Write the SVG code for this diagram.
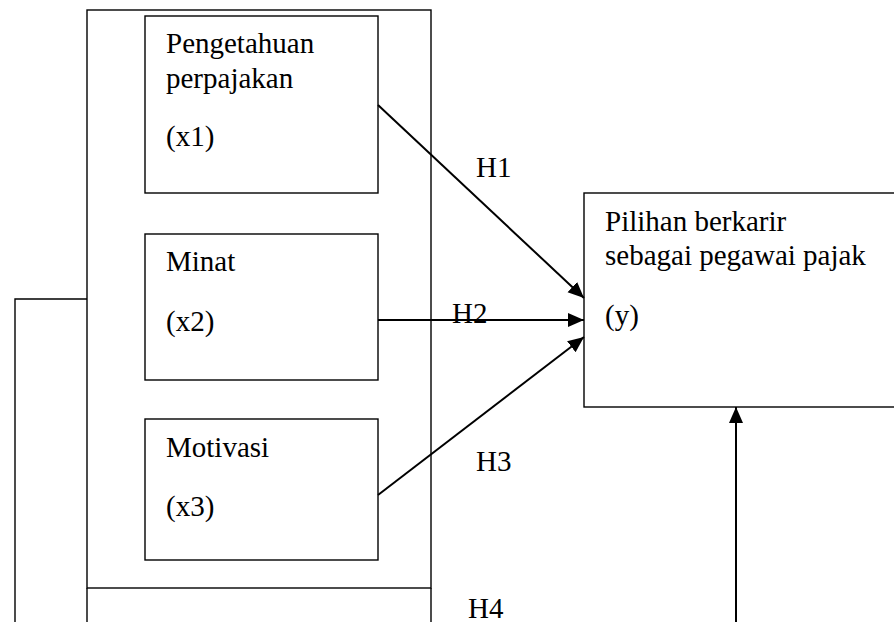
<svg xmlns="http://www.w3.org/2000/svg" width="894" height="622" viewBox="0 0 894 622">
<style>
.box{fill:#fff;stroke:#000;stroke-width:1.4}
.ln{fill:none;stroke:#000;stroke-width:1.4}
.ar{fill:none;stroke:#000;stroke-width:2}
text{font-family:"Liberation Serif","Times New Roman",serif;font-size:29px;fill:#000}
</style>
<defs>
<marker id="ah" markerUnits="userSpaceOnUse" markerWidth="17" markerHeight="15" refX="16" refY="7" orient="auto">
<path d="M0,0 L16,7 L0,14 z" fill="#000"/>
</marker>
</defs>
<g id="outer">
<rect class="box" x="87" y="10" width="344" height="578"/>
<path class="ln" d="M87,588 V630 M431,588 V630"/>
</g>
<g id="x1">
<rect class="box" x="145" y="16" width="233" height="177"/>
<text x="166" y="53">Pengetahuan</text>
<text x="166" y="88">perpajakan</text>
<text x="166" y="146">(x1)</text>
</g>
<g id="x2">
<rect class="box" x="145" y="234" width="233" height="146"/>
<text x="166" y="271">Minat</text>
<text x="166" y="331">(x2)</text>
</g>
<g id="x3">
<rect class="box" x="145" y="419" width="233" height="141"/>
<text x="166" y="457">Motivasi</text>
<text x="166" y="516">(x3)</text>
</g>
<g id="y">
<rect class="box" x="584" y="193" width="330" height="214"/>
<text x="605" y="231">Pilihan berkarir</text>
<text x="605" y="265">sebagai pegawai pajak</text>
<text x="605" y="325">(y)</text>
</g>
<g id="connectors">
<path class="ln" d="M15,630 V299 H87"/>
<line class="ar" x1="378" y1="105" x2="584" y2="298" marker-end="url(#ah)"/>
<line class="ar" x1="378" y1="320" x2="584" y2="320" marker-end="url(#ah)"/>
<line class="ar" x1="378" y1="495" x2="584" y2="337" marker-end="url(#ah)"/>
<line class="ar" x1="736" y1="630" x2="736" y2="407" marker-end="url(#ah)"/>
<text x="476" y="177">H1</text>
<text x="452" y="323">H2</text>
<text x="476" y="471">H3</text>
<text x="468" y="618">H4</text>
</g>
</svg>
